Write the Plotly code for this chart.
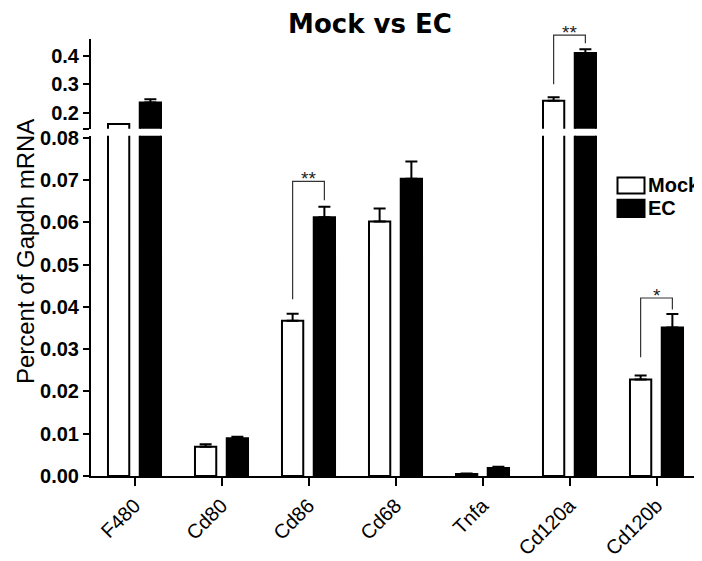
import plotly.graph_objects as go

# ---------------- data ----------------
categories = ["F480", "Cd80", "Cd86", "Cd68", "Tnfa", "Cd120a", "Cd120b"]
mock_values = [0.162, 0.0069, 0.0367, 0.0602, 0.0005, 0.2434, 0.0228]
mock_errors = [0.000, 0.0006, 0.0017, 0.0031, 0.0001, 0.0118, 0.0010]
ec_values = [0.237, 0.0089, 0.0612, 0.0703, 0.0019, 0.4093, 0.0351]
ec_errors = [0.011, 0.0004, 0.0025, 0.0041, 0.0003, 0.0138, 0.0032]

lower_ticks = [0.00, 0.01, 0.02, 0.03, 0.04, 0.05, 0.06, 0.07, 0.08]
upper_ticks = [0.2, 0.3, 0.4]

# significance brackets: (category, left-leg bottom, top, right-leg bottom, panel, label)
brackets = [
    ("Cd86", 0.0418, 0.0697, 0.0652, "lower", "**"),
    ("Cd120a", 0.301, 0.4724, 0.4438, "upper", "**"),
    ("Cd120b", 0.0281, 0.0421, 0.0394, "lower", "*"),
]

# ---------------- layout geometry ----------------
# The page body adds an 8px margin, so the figure is made 8px smaller and
# all screen-pixel positions are shifted by that amount.
OFF = 8
W, H = 702 - OFF, 561 - OFF
PLOT_LEFT, PLOT_RIGHT, PLOT_TOP, PLOT_BOTTOM = 91, 700, 39, 482  # screen px
ML = PLOT_LEFT - OFF
MR = W - (PLOT_RIGHT - OFF)
MT = PLOT_TOP - OFF
MB = H - (PLOT_BOTTOM - OFF)
plot_h = PLOT_BOTTOM - PLOT_TOP
plot_w = PLOT_RIGHT - PLOT_LEFT
lower_dom = [0.0, (PLOT_BOTTOM - 137) / plot_h]
upper_dom = [(PLOT_BOTTOM - 130) / plot_h, 1.0]
lower_rng = [0.0, 0.0805]
upper_rng = [0.1452, 0.4586]
bargap = 0.27
bargroupgap = 0.33

FONT = "Liberation Sans, Arial, sans-serif"
TITLE_FONT = "DejaVu Sans, Liberation Sans, sans-serif"


def to_paper(v, panel):
    dom, rng = (lower_dom, lower_rng) if panel == "lower" else (upper_dom, upper_rng)
    return dom[0] + (v - rng[0]) / (rng[1] - rng[0]) * (dom[1] - dom[0])


def x_paper(cat, which):
    i = categories.index(cat)
    off = (1 - bargap) / 4.0
    c = i + (-off if which == "mock" else off)
    return (c + 0.5) / len(categories)


def px_x(px):
    return (px - PLOT_LEFT) / plot_w


def px_y(py):
    return (PLOT_BOTTOM - py) / plot_h


fig = go.Figure()

for xa, ya in (("x", "y"), ("x2", "y2")):
    fig.add_trace(go.Bar(
        x=categories, y=mock_values, name="Mock", xaxis=xa, yaxis=ya,
        marker=dict(color="white", line=dict(color="black", width=2)),
        error_y=dict(type="data", symmetric=False, array=mock_errors,
                     arrayminus=[0] * len(mock_errors), color="black",
                     thickness=2, width=6),
        showlegend=False,
    ))
    fig.add_trace(go.Bar(
        x=categories, y=ec_values, name="EC", xaxis=xa, yaxis=ya,
        marker=dict(color="black", line=dict(color="black", width=2)),
        error_y=dict(type="data", symmetric=False, array=ec_errors,
                     arrayminus=[0] * len(ec_errors), color="black",
                     thickness=2, width=6),
        showlegend=False,
    ))

shapes = []
annotations = []
for cat, lb, top, rb, panel, label in brackets:
    xl, xr = x_paper(cat, "mock"), x_paper(cat, "ec")
    yl, yt, yr = to_paper(lb, panel), to_paper(top, panel), to_paper(rb, panel)
    shapes.append(dict(
        type="path", xref="paper", yref="paper",
        path=f"M{xl},{yl} L{xl},{yt} L{xr},{yt} L{xr},{yr}",
        line=dict(color="#333333", width=1.2),
    ))
    annotations.append(dict(
        x=(xl + xr) / 2, y=yt, xref="paper", yref="paper", text=label,
        showarrow=False, yanchor="middle", xanchor="center", yshift=3,
        font=dict(family=FONT, size=19, color="#222222"),
    ))

# legend (drawn manually to match the box style)
legend_items = [("Mock", "white", 179.5, 195.5), ("EC", "black", 202, 219.5)]
for name, fill, y0, y1 in legend_items:
    shapes.append(dict(type="rect", xref="paper", yref="paper",
                       x0=px_x(617.5), x1=px_x(644.5), y0=px_y(y1), y1=px_y(y0),
                       fillcolor=fill, line=dict(color="black", width=2)))
    annotations.append(dict(x=px_x(646), y=px_y((y0 + y1) / 2), xref="paper",
                            yref="paper", text=name, showarrow=False,
                            xanchor="left", yanchor="middle",
                            font=dict(family=FONT, size=20, color="black", weight="bold")))

annotations.append(dict(
    x=px_x(25), y=px_y(255), xref="paper", yref="paper",
    text="Percent of Gapdh mRNA", textangle=-90, showarrow=False,
    xanchor="center", yanchor="middle",
    font=dict(family=FONT, size=24, color="black"),
))

axis_common = dict(showline=True, linecolor="black", linewidth=2, ticks="outside",
                   tickcolor="black", tickwidth=2, ticklen=6, showgrid=False,
                   zeroline=False)

fig.update_layout(
    width=W, height=H,
    margin=dict(l=ML, r=MR, t=MT, b=MB),
    paper_bgcolor="white", plot_bgcolor="white",
    barmode="group", bargap=bargap, bargroupgap=bargroupgap,
    title=dict(text="Mock vs EC", x=(370 - OFF) / W, xanchor="center", xref="container",
               y=1 - (24 - OFF) / H, yanchor="middle",
               font=dict(family=TITLE_FONT, size=26, color="black", weight="bold")),
    xaxis=dict(**{**axis_common, "ticklen": 8}, type="category", categoryorder="array",
               categoryarray=categories, range=[-0.5, len(categories) - 0.5],
               anchor="y", tickangle=-45,
               tickfont=dict(family=FONT, size=20, color="black")),
    xaxis2=dict(matches="x", anchor="y2", visible=False, type="category",
                categoryorder="array", categoryarray=categories,
                range=[-0.5, len(categories) - 0.5]),
    yaxis=dict(**axis_common, domain=lower_dom, range=lower_rng, anchor="x",
               tickvals=lower_ticks, ticktext=[f"{v:.2f}" for v in lower_ticks],
               tickfont=dict(family=FONT, size=20, color="black", weight="bold")),
    yaxis2=dict(**axis_common, domain=upper_dom, range=upper_rng, anchor="x2",
                tickvals=[upper_rng[0] + 0.0005] + upper_ticks,
                ticktext=[""] + [f"{v:.1f}" for v in upper_ticks],
                tickfont=dict(family=FONT, size=20, color="black", weight="bold")),
    shapes=shapes,
    annotations=annotations,
)

fig.write_html("out.html")
